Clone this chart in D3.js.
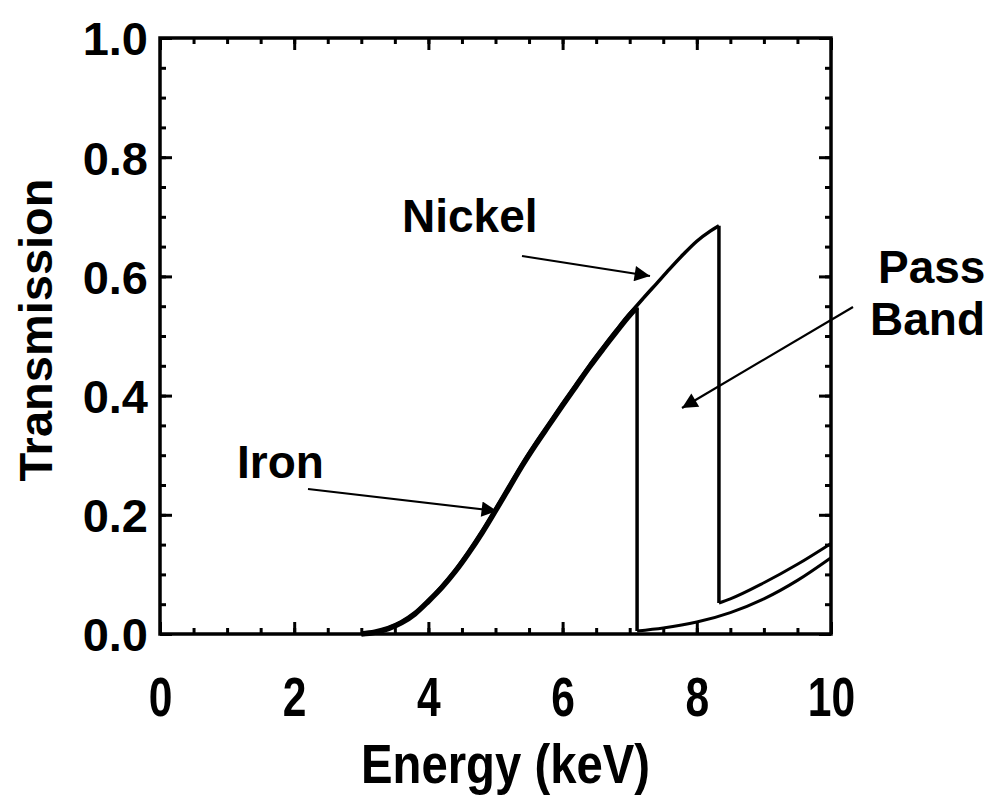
<!DOCTYPE html>
<html>
<head>
<meta charset="utf-8">
<script src="https://cdn.jsdelivr.net/npm/d3@7"></script>
<style>
  body { margin: 0; background: #fff; }
  svg { display: block; }
  text { font-family: "Liberation Sans", Arial, Helvetica, sans-serif; font-weight: bold; fill: #000; }
</style>
</head>
<body>
<svg id="chart" width="1000" height="809"></svg>
<script>
// Filter transmission vs photon energy

// Iron filter, below the K edge (7.11 keV)
const ironLoE = [3.0, 3.2, 3.4, 3.6, 3.8, 4.0, 4.2, 4.4, 4.6, 4.8, 5.0, 5.2, 5.4, 5.6, 5.8, 6.0, 6.2, 6.4, 6.6, 6.8, 7.0, 7.11]
const ironLoT = [0.0, 0.003, 0.009, 0.019, 0.034, 0.055, 0.078, 0.105, 0.136, 0.170, 0.207, 0.245, 0.283, 0.318, 0.351, 0.384, 0.416, 0.448, 0.478, 0.507, 0.535, 0.548]
// Iron, above the edge
const ironHiE = [7.11, 7.5, 8.0, 8.5, 9.0, 9.5, 10.0]
const ironHiT = [0.005, 0.010, 0.020, 0.036, 0.059, 0.090, 0.128]

// Nickel filter, below the K edge (8.33 keV)
const nickelLoE = [3.0, 3.2, 3.4, 3.6, 3.8, 4.0, 4.2, 4.4, 4.6, 4.8, 5.0, 5.2, 5.4, 5.6, 5.8, 6.0, 6.2, 6.4, 6.6, 6.8, 7.0, 7.2, 7.4, 7.6, 7.8, 8.0, 8.2, 8.33]
const nickelLoT = [0.0, 0.003, 0.010, 0.020, 0.035, 0.056, 0.080, 0.107, 0.138, 0.172, 0.209, 0.247, 0.285, 0.320, 0.353, 0.386, 0.418, 0.450, 0.480, 0.509, 0.537, 0.563, 0.588, 0.613, 0.637, 0.659, 0.676, 0.685]
// Nickel, above the edge
const nickelHiE = [8.33, 8.5, 9.0, 9.5, 10.0]
const nickelHiT = [0.052, 0.059, 0.086, 0.117, 0.152]

const xMajorTicks = [0, 2, 4, 6, 8, 10]
const yMajorTicks = [0.0, 0.2, 0.4, 0.6, 0.8, 1.0]

const svg = d3.select("#chart")
const margin = {left: 160, top: 38, right: 169, bottom: 175}
const width = 1000 - margin.left - margin.right
const height = 809 - margin.top - margin.bottom

const x = d3.scaleLinear().domain([0, 10]).range([0, width])
const y = d3.scaleLinear().domain([0, 1]).range([height, 0])

const g = svg.append("g")
    .attr("transform", `translate(${margin.left},${margin.top})`)

// minor + major ticks, all pointing inward, on all four sides
const xMinor = d3.range(0, 10.001, 0.5)
const yMinor = d3.range(0, 1.0001, 0.05)

function tickAxis(axisFn, scale, values, size, offset) {
    const a = g.append("g")
        .attr("transform", offset)
        .call(axisFn(scale).tickValues(values).tickSize(-size).tickFormat(""))
    a.select(".domain").remove()
    a.selectAll(".tick line").attr("stroke", "#000").attr("stroke-width", 3)
    return a
}
tickAxis(d3.axisBottom, x, xMinor, 6, `translate(0,${height})`)
tickAxis(d3.axisBottom, x, xMajorTicks, 12, `translate(0,${height})`)
tickAxis(d3.axisTop, x, xMinor, 6, "translate(0,0)")
tickAxis(d3.axisTop, x, xMajorTicks, 12, "translate(0,0)")
tickAxis(d3.axisLeft, y, yMinor, 6, "translate(0,0)")
tickAxis(d3.axisLeft, y, yMajorTicks, 12, "translate(0,0)")
tickAxis(d3.axisRight, y, yMinor, 6, `translate(${width},0)`)
tickAxis(d3.axisRight, y, yMajorTicks, 12, `translate(${width},0)`)

// tick labels
const xLab = g.append("g")
    .attr("transform", `translate(0,${height})`)
    .call(d3.axisBottom(x).tickValues(xMajorTicks).tickSize(0).tickFormat(d3.format("d")))
xLab.select(".domain").remove()
xLab.selectAll("text")
    .attr("y", 82).attr("dy", null)
    .attr("font-size", 56)
    .attr("transform", "scale(0.76,1)")

const yLab = g.append("g")
    .call(d3.axisLeft(y).tickValues(yMajorTicks).tickSize(0).tickPadding(12).tickFormat(d3.format(".1f")))
yLab.select(".domain").remove()
yLab.selectAll("text")
    .attr("dy", "0.36em")
    .attr("font-size", 47)

// frame
g.append("rect")
    .attr("width", width).attr("height", height)
    .attr("fill", "none").attr("stroke", "#000").attr("stroke-width", 3.5)

// curves
const line = d3.line()
    .x(d => x(d[0]))
    .y(d => y(d[1]))
    .curve(d3.curveMonotoneX)
const zip = (a, b) => a.map((v, i) => [v, b[i]])

function drawSeries(loE, loT, hiE, hiT, w) {
    const lo = zip(loE, loT), hi = zip(hiE, hiT)
    g.append("path").attr("d", line(lo))
        .attr("fill", "none").attr("stroke", "#000").attr("stroke-width", w)
        .attr("stroke-linejoin", "round")
    // the absorption edge
    g.append("line")
        .attr("x1", x(lo[lo.length - 1][0])).attr("y1", y(lo[lo.length - 1][1]))
        .attr("x2", x(hi[0][0])).attr("y2", y(hi[0][1]))
        .attr("stroke", "#000").attr("stroke-width", 3.5)
    g.append("path").attr("d", line(hi))
        .attr("fill", "none").attr("stroke", "#000").attr("stroke-width", 3)
}
drawSeries(ironLoE, ironLoT, ironHiE, ironHiT, 5.5)
drawSeries(nickelLoE, nickelLoT, nickelHiE, nickelHiT, 3.5)

// axis titles
svg.append("text")
    .attr("transform", `translate(${margin.left + width / 2 + 10},783) scale(0.86,1)`)
    .attr("text-anchor", "middle")
    .attr("font-size", 55)
    .text("Energy (keV)")

svg.append("text")
    .attr("transform", `translate(52,${margin.top + height / 2 - 6}) rotate(-90)`)
    .attr("text-anchor", "middle")
    .attr("font-size", 47)
    .text("Transmission")

// annotations with arrows
svg.append("defs").append("marker")
    .attr("id", "head")
    .attr("viewBox", "0 0 10 10")
    .attr("refX", 10).attr("refY", 5)
    .attr("markerWidth", 8).attr("markerHeight", 7)
    .attr("markerUnits", "strokeWidth")
    .attr("orient", "auto")
  .append("path")
    .attr("d", "M0,0 L10,5 L0,10 Z")
    .attr("fill", "#000")

const labels = [
    {text: "Nickel", x: 402, y: 232},
    {text: "Iron", x: 237, y: 478},
    {text: "Pass", x: 878, y: 283},
    {text: "Band", x: 870, y: 335}
]
svg.selectAll(".anno").data(labels).enter().append("text")
    .attr("class", "anno")
    .attr("x", d => d.x).attr("y", d => d.y)
    .attr("font-size", 46)
    .text(d => d.text)

const arrows = [
    [522, 256, 650, 276],
    [308, 489, 497, 511],
    [853, 307, 682, 408]
]
svg.selectAll(".arrow").data(arrows).enter().append("line")
    .attr("class", "arrow")
    .attr("x1", d => d[0]).attr("y1", d => d[1])
    .attr("x2", d => d[2]).attr("y2", d => d[3])
    .attr("stroke", "#000").attr("stroke-width", 2.2)
    .attr("marker-end", "url(#head)")
</script>
</body>
</html>
